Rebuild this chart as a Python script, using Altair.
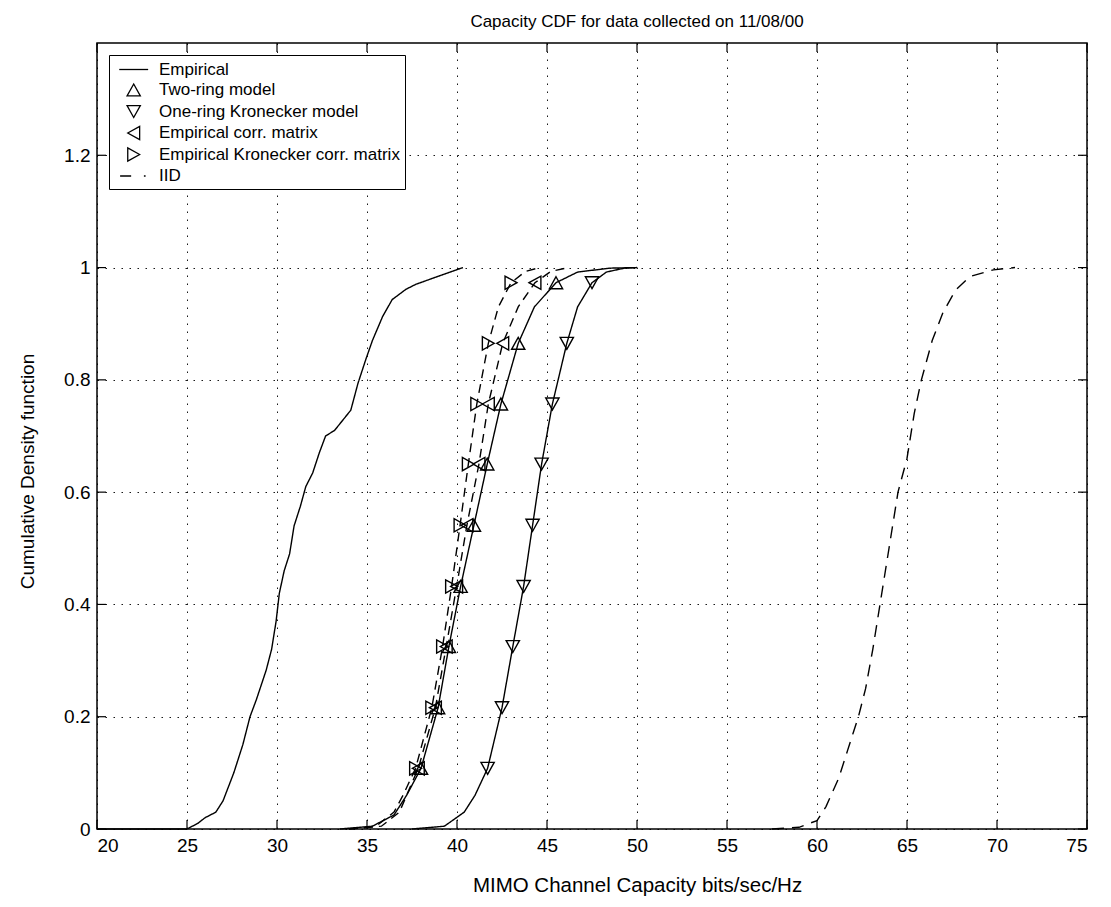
import altair as alt
import pandas as pd

FONT = "Liberation Sans"

SERIES = ["Empirical", "Two-ring model", "One-ring Kronecker model",
          "Empirical corr. matrix", "Empirical Kronecker corr. matrix", "IID"]
STYLE = ["solid", "solid", "solid", "dashed", "dashed", "dashdot"]

# ---- curve data ----
emp_x = [20.0, 25.0, 25.6, 26.0, 26.6, 27.0, 27.6, 28.1, 28.5, 28.85, 29.4, 29.7,
         29.95, 30.13, 30.4, 30.7, 30.95, 31.3, 31.6, 31.98, 32.35, 32.7, 33.2,
         33.65, 34.1, 34.5, 34.93, 35.3, 35.87, 36.4, 37.15, 37.7, 39.0, 40.33]
emp_y = [0.0, 0.0, 0.01, 0.02, 0.03, 0.05, 0.10, 0.15, 0.20, 0.23, 0.283, 0.32,
         0.37, 0.42, 0.46, 0.49, 0.54, 0.575, 0.61, 0.634, 0.67, 0.70, 0.71,
         0.728, 0.746, 0.794, 0.836, 0.87, 0.913, 0.943, 0.961, 0.97, 0.985, 1.0]

two_x = [33.5, 35.3, 36.5, 37.2, 38.0, 38.95, 39.55, 40.2, 40.94, 41.68, 42.44,
         43.4, 44.3, 45.5, 46.7, 48.5, 50.0]
two_y = [0.0, 0.005, 0.025, 0.06, 0.108, 0.216, 0.325, 0.432, 0.541, 0.65, 0.757,
         0.865, 0.93, 0.973, 0.992, 0.999, 1.0]

one_x = [37.5, 39.3, 40.4, 41.0, 41.7, 42.5, 43.1, 43.7, 44.2, 44.7, 45.3, 46.1,
         46.7, 47.5, 48.3, 49.3, 50.0]
one_y = [0.0, 0.005, 0.03, 0.06, 0.108, 0.216, 0.325, 0.432, 0.541, 0.65, 0.757,
         0.865, 0.93, 0.973, 0.992, 0.999, 1.0]

ecorr_x = [34.0, 35.8, 36.8, 37.2, 37.85, 38.8, 39.4, 39.98, 40.55, 41.22, 41.74,
           42.54, 43.4, 44.33, 45.2, 46.2]
ecorr_y = [0.0, 0.005, 0.03, 0.06, 0.108, 0.216, 0.325, 0.432, 0.541, 0.65, 0.757,
           0.865, 0.93, 0.973, 0.993, 1.0]

ekron_x = [34.0, 35.5, 36.5, 37.0, 37.7, 38.6, 39.2, 39.7, 40.17, 40.63, 41.1,
           41.74, 42.3, 43.0, 43.8, 44.6]
ekron_y = [0.0, 0.005, 0.03, 0.06, 0.108, 0.216, 0.325, 0.432, 0.541, 0.65, 0.757,
           0.865, 0.93, 0.973, 0.993, 1.0]

iid_x = [57.5, 59.0, 60.0, 60.5, 61.2, 61.7, 62.0, 62.3, 62.7, 63.1, 63.5, 64.0,
         64.5, 65.0, 65.4, 65.8, 66.4, 67.0, 67.7, 68.5, 69.8, 71.0]
iid_y = [0.0, 0.003, 0.015, 0.04, 0.09, 0.14, 0.17, 0.20, 0.25, 0.32, 0.40, 0.50,
         0.60, 0.66, 0.74, 0.80, 0.87, 0.92, 0.96, 0.984, 0.996, 1.0]

# ---- marker positions ----
marker_y = [0.108, 0.216, 0.325, 0.432, 0.541, 0.65, 0.757, 0.865, 0.973]
two_mx = [38.0, 38.95, 39.55, 40.2, 40.94, 41.68, 42.44, 43.4, 45.5]
one_mx = [41.7, 42.5, 43.1, 43.7, 44.2, 44.7, 45.3, 46.1, 47.5]
ecorr_mx = [37.85, 38.8, 39.4, 39.98, 40.55, 41.22, 41.74, 42.54, 44.33]
ekron_mx = [37.7, 38.6, 39.2, 39.7, 40.17, 40.63, 41.1, 41.74, 43.0]

x_ticks = [20, 25, 30, 35, 40, 45, 50, 55, 60, 65, 70, 75]
y_ticks = [0, 0.2, 0.4, 0.6, 0.8, 1.0, 1.2]

# ---- tables ----
rows = []
for k, (xs, ys) in enumerate([(emp_x, emp_y), (two_x, two_y), (one_x, one_y),
                              (ecorr_x, ecorr_y), (ekron_x, ekron_y), (iid_x, iid_y)]):
    for i, (xv, yv) in enumerate(zip(xs, ys)):
        rows.append({"series": SERIES[k], "style": STYLE[k], "x": xv, "y": yv, "order": i})
line_df = pd.DataFrame(rows)

mrows = []
for name, xs in [(SERIES[1], two_mx), (SERIES[2], one_mx),
                 (SERIES[3], ecorr_mx), (SERIES[4], ekron_mx)]:
    for xv, yv in zip(xs, marker_y):
        mrows.append({"model": name, "x": xv, "y": yv})
mark_df = pd.DataFrame(mrows)

xt_df = pd.DataFrame({"x": x_ticks})
yt_df = pd.DataFrame({"y": y_ticks})

W, H = 990, 786
TICK = 9

xscale = alt.Scale(domain=[20, 75], nice=False, zero=False)
yscale = alt.Scale(domain=[0, 1.4], nice=False, zero=False)

# symbol paths (unit = sqrt(size)/2 px); shifted right by DX units so that the
# legend swatches sit like the original; the plotted markers are shifted back.
SYM_SIZE = 289
UNIT = (SYM_SIZE ** 0.5) / 2
DX = 1.2


def path(cmds):
    out = []
    for c, x, y in cmds:
        out.append(f"{c}{x + DX:.3f},{y:.3f}")
    return "".join(out)


SHAPES = [
    path([("M", -1.7, 0), ("L", 1.7, 0)]),                                   # Empirical
    path([("M", 0, -0.7), ("L", 0.78, 0.7), ("L", -0.78, 0.7)]) + "Z",        # up
    path([("M", 0, 0.7), ("L", 0.78, -0.7), ("L", -0.78, -0.7)]) + "Z",       # down
    path([("M", -0.7, 0), ("L", 0.7, -0.78), ("L", 0.7, 0.78)]) + "Z",        # left
    path([("M", 0.7, 0), ("L", -0.7, -0.78), ("L", -0.7, 0.78)]) + "Z",       # right
    path([("M", -1.6, 0), ("L", -0.3, 0), ("M", 1.2, 0), ("L", 1.4, 0)]),     # IID
]

lines = alt.Chart(line_df).mark_line(color="black", strokeWidth=1.4).encode(
    x=alt.X("x:Q", scale=xscale,
            axis=alt.Axis(values=x_ticks, title="MIMO Channel Capacity bits/sec/Hz",
                          titlePadding=20, format="~g", titleX=W / 2 + 45,
                          titleFontSize=20.5)),
    y=alt.Y("y:Q", scale=yscale,
            axis=alt.Axis(values=y_ticks, title="Cumulative Density function",
                          titlePadding=26, format="~g", titleY=H / 2 + 35)),
    detail="series:N",
    order="order:Q",
    strokeDash=alt.StrokeDash("style:N",
                              scale=alt.Scale(domain=["solid", "dashed", "dashdot"],
                                              range=[[1, 0], [9, 6], [12, 8]]),
                              legend=None),
)

markers = alt.Chart(mark_df).mark_point(filled=False, size=SYM_SIZE, strokeWidth=1.4,
                                        color="black", opacity=1,
                                        xOffset=-DX * UNIT).encode(
    x=alt.X("x:Q", scale=xscale),
    y=alt.Y("y:Q", scale=yscale),
    shape=alt.Shape("model:N", scale=alt.Scale(domain=SERIES, range=SHAPES),
                    legend=alt.Legend(orient="top-left", title=None)),
)

tick_b = alt.Chart(xt_df).mark_rule(color="black", strokeWidth=1.2).encode(
    x=alt.X("x:Q", scale=xscale), y=alt.value(H), y2=alt.value(H - TICK))
tick_t = alt.Chart(xt_df).mark_rule(color="black", strokeWidth=1.2).encode(
    x=alt.X("x:Q", scale=xscale), y=alt.value(0), y2=alt.value(TICK))
tick_l = alt.Chart(yt_df).mark_rule(color="black", strokeWidth=1.2).encode(
    y=alt.Y("y:Q", scale=yscale), x=alt.value(0), x2=alt.value(TICK))
tick_r = alt.Chart(yt_df).mark_rule(color="black", strokeWidth=1.2).encode(
    y=alt.Y("y:Q", scale=yscale), x=alt.value(W), x2=alt.value(W - TICK))

chart = alt.layer(lines, tick_b, tick_t, tick_l, tick_r, markers).properties(
    width=W, height=H,
    title=alt.TitleParams("Capacity CDF for data collected on 11/08/00",
                          font=FONT, fontSize=17, fontWeight="normal", color="black",
                          offset=11, anchor="middle", dx=45),
    autosize=alt.AutoSizeParams(type="none"),
    padding={"left": 89, "top": 35, "right": 16, "bottom": 70},
).configure_view(
    stroke="black", strokeWidth=1.5
).configure_axis(
    labelFont=FONT, labelFontSize=19, labelColor="black", labelPadding=7,
    titleFont=FONT, titleFontSize=19, titleFontWeight="normal", titleColor="black",
    tickSize=0, domain=False,
    grid=True, gridColor="black", gridDash=[1.5, 6.5], gridWidth=1, gridOpacity=0.9,
).configure_legend(
    offset=12, padding=5, strokeColor="black", fillColor="white",
    labelFont=FONT, labelFontSize=17, labelColor="black", labelLimit=500,
    labelOffset=26, rowPadding=2.5, symbolSize=SYM_SIZE, symbolStrokeColor="black",
    symbolStrokeWidth=1.3, cornerRadius=0,
)

chart.save("out.html", embed_options={"renderer": "svg", "actions": False})
